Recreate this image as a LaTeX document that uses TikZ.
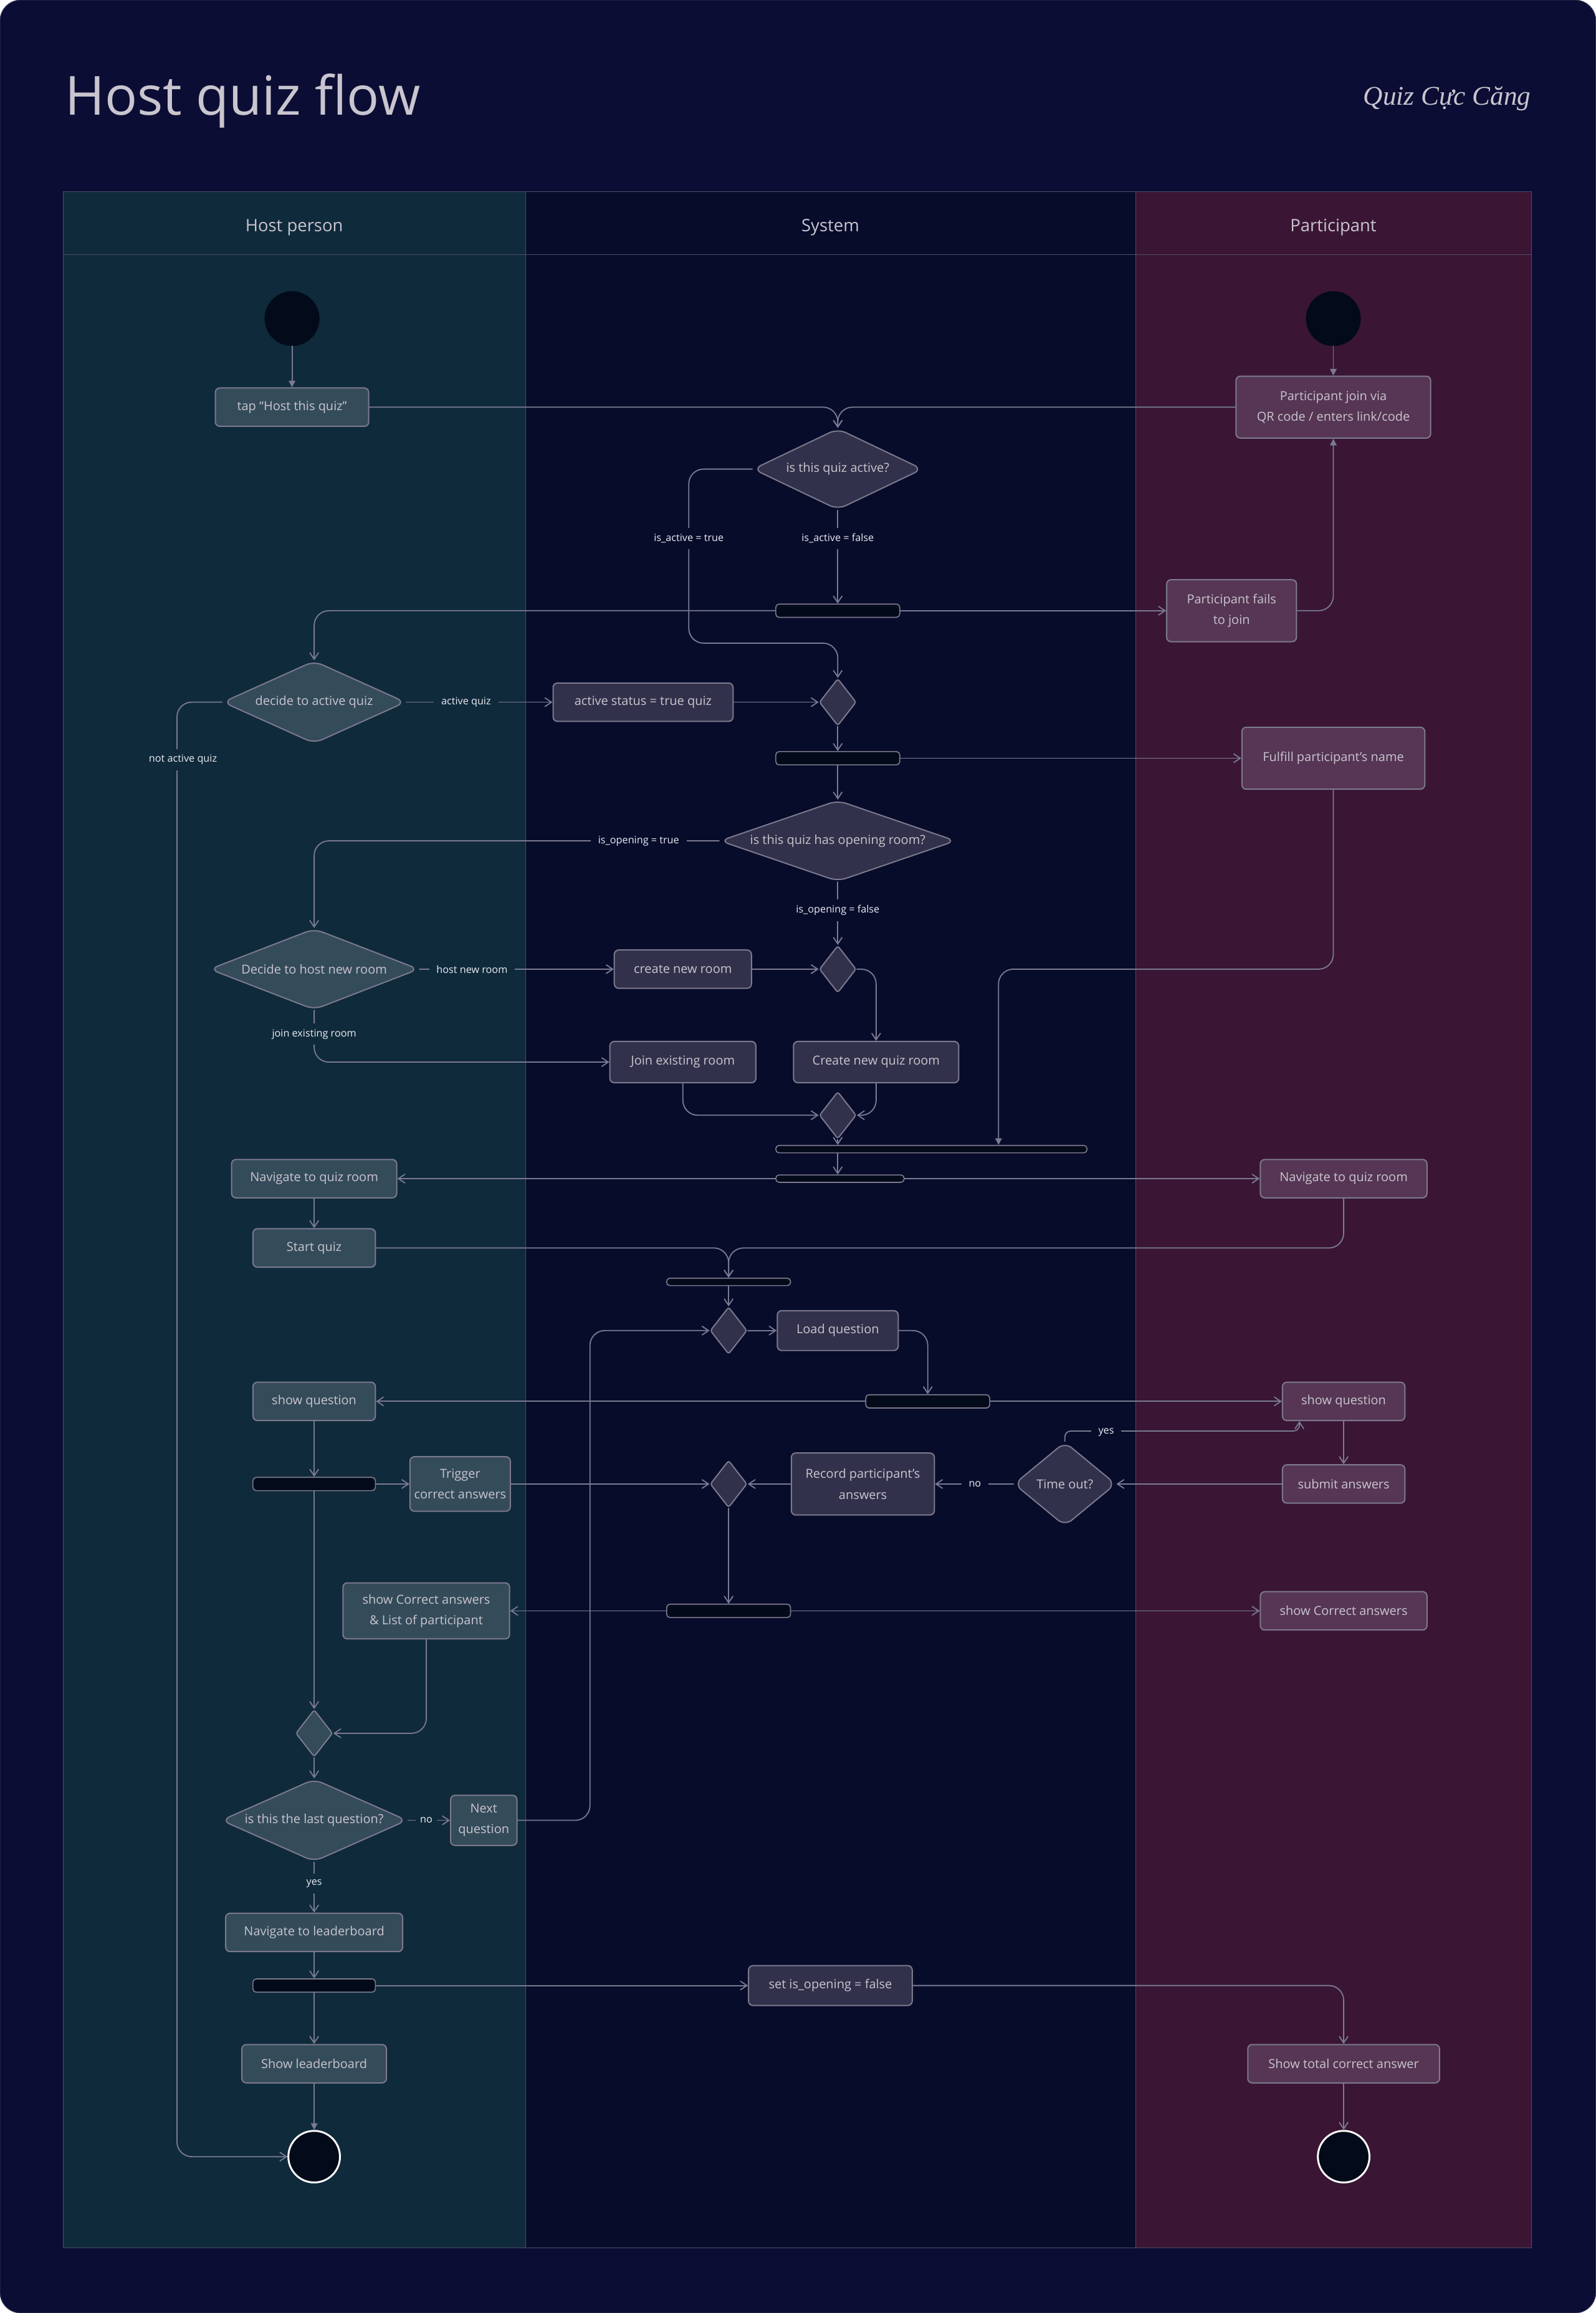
\documentclass[tikz,border=0pt]{standalone}
\usepackage{fontspec}
\setmainfont{Open Sans}
\newfontfamily\brandfont{Liberation Serif}
\usetikzlibrary{arrows.meta,shapes.geometric}
\definecolor{pagebg}{HTML}{0C0D34}
\definecolor{hostlane}{HTML}{0F2A3B}
\definecolor{syslane}{HTML}{080C2B}
\definecolor{partlane}{HTML}{3A1634}
\definecolor{laneline}{HTML}{4A4E68}
\definecolor{hostfill}{HTML}{344B5A}
\definecolor{sysfill}{HTML}{31314B}
\definecolor{partfill}{HTML}{563654}
\definecolor{boxline}{HTML}{7C798D}
\definecolor{wire}{HTML}{7A7A92}
\definecolor{ink}{HTML}{030A19}
\definecolor{boxtext}{HTML}{C9C5CF}
\definecolor{lbltext}{HTML}{ECECF2}
\newcommand\boxfont{\fontsize{24}{40}\selectfont}
\newcommand\lblfont{\fontsize{19.5}{21}\selectfont}
\begin{document}
\begin{tikzpicture}[x=1mm,y=-1mm,line cap=round,line join=round,
  >={Straight Barb[length=4.5mm,width=6mm]},
  flow/.style={->,draw=wire,line width=2.2pt,rounded corners=10mm},
  ptr/.style={-{Triangle[length=4.5mm,width=4.5mm]},draw=wire,line width=2.2pt,rounded corners=10mm},
  act/.style={rectangle,rounded corners=3mm,draw=boxline,line width=2.4pt,text=boxtext,font=\boxfont,align=center,inner xsep=2mm,inner ysep=1mm},
  hostbox/.style={act,fill=hostfill},
  sysbox/.style={act,fill=sysfill},
  partbox/.style={act,fill=partfill},
  dia/.style={diamond,rounded corners=6mm,draw=boxline,line width=2.4pt,text=boxtext,font=\boxfont,inner sep=0pt},
  hostdia/.style={dia,fill=hostfill},
  sysdia/.style={dia,fill=sysfill},
  merge/.style={diamond,rounded corners=1.5mm,draw=boxline,line width=2.4pt,minimum width=25mm,minimum height=32mm,inner sep=0pt},
  forkbar/.style={rectangle,rounded corners=2.2mm,fill=ink,draw=boxline,line width=2pt,minimum height=9mm,inner sep=0pt},
  startdot/.style={circle,fill=ink,draw=ink,minimum size=37mm,inner sep=0pt},
  enddot/.style={circle,fill=ink,draw=white,line width=3.6pt,minimum size=35mm,inner sep=0pt},
  lbl/.style={text=lbltext,font=\lblfont,inner xsep=5mm,inner ysep=4mm},
  head/.style={text=boxtext,font=\fontsize{33}{36}\selectfont,anchor=base},
  lane/.style={draw=laneline,line width=1.3pt}]
\useasboundingbox (0,0) rectangle (1082,1568);
\fill[white] (0,0) rectangle (1082,1568);
\filldraw[fill=pagebg,draw=laneline,line width=1pt,rounded corners=14mm] (0,0) rectangle (1082,1568);
\fill[hostlane] (43,130) rectangle (356.5,1524);
\fill[syslane] (356.5,130) rectangle (770,1524);
\fill[partlane] (770,130) rectangle (1038.5,1524);
\draw[lane] (43,130) rectangle (1038.5,1524);
\draw[lane] (356.5,130) -- (356.5,1524);
\draw[lane] (770,130) -- (770,1524);
\draw[lane] (43,172.5) -- (1038.5,172.5);

\node[anchor=base west,inner sep=0pt,text=boxtext,font=\fontsize{104}{110}\selectfont] (title) at (44,78) {Host quiz flow};
\node[anchor=base east,inner sep=0pt,text=boxtext,font=\brandfont\itshape\fontsize{52}{56}\selectfont] (brand) at (1038,71) {Quiz Cực Căng};
\node[head] (hhost) at (199.5,157) {Host person};
\node[head] (hsys) at (563,157) {System};
\node[head] (hpart) at (904,157) {Participant};

\node[startdot] (start1) at (198,216) {};
\node[startdot] (start2) at (904,216) {};
\node[hostbox,minimum width=104mm,minimum height=26mm] (tap) at (198,276) {tap “Host this quiz”};
\node[partbox,minimum width=132mm,minimum height=42mm] (join) at (904,276) {Participant join via\\QR code / enters link/code};
\node[sysdia,minimum width=115mm,minimum height=55mm,aspect=2.09] (qactive) at (568,318) {is this quiz active?};
\node[forkbar,minimum width=84mm] (bar1) at (568,414) {};
\node[partbox,minimum width=88mm,minimum height=42mm] (fails) at (835,414) {Participant fails\\to join};
\node[hostdia,minimum width=124mm,minimum height=56mm,aspect=2.21] (decide) at (213,476) {decide to active quiz};
\node[sysbox,minimum width=122mm,minimum height=26mm] (actstat) at (436,476) {active status = true quiz};
\node[merge,fill=sysfill] (merge1) at (568,476) {};
\node[forkbar,minimum width=84mm] (bar2) at (568,514) {};
\node[partbox,minimum width=124mm,minimum height=42mm] (fulfill) at (904,514) {Fulfill participant’s name};
\node[sysdia,minimum width=160mm,minimum height=55mm,aspect=2.91] (opening) at (568,570) {is this quiz has opening room?};
\node[hostdia,minimum width=142mm,minimum height=55mm,aspect=2.58] (hostroom) at (213,657) {Decide to host new room};
\node[sysbox,minimum width=93mm,minimum height=26mm] (createroom) at (463,657) {create new room};
\node[merge,fill=sysfill] (merge2) at (568,657) {};
\node[sysbox,minimum width=99mm,minimum height=28mm] (joinroom) at (463,720) {Join existing room};
\node[sysbox,minimum width=112mm,minimum height=28mm] (newquiz) at (594,720) {Create new quiz room};
\node[merge,fill=sysfill] (merge3) at (568,756) {};
\node[forkbar,minimum width=211mm,minimum height=5mm] (bar3) at (631.5,779) {};
\node[forkbar,minimum width=87mm,minimum height=5mm] (bar4) at (569.5,799) {};
\node[hostbox,minimum width=112mm,minimum height=26mm] (navh) at (213,799) {Navigate to quiz room};
\node[partbox,minimum width=113mm,minimum height=26mm] (navp) at (911,799) {Navigate to quiz room};
\node[hostbox,minimum width=83mm,minimum height=26mm] (startq) at (213,846) {Start quiz};
\node[forkbar,minimum width=84mm,minimum height=5mm] (bar5) at (494,869) {};
\node[merge,fill=sysfill] (merge4) at (494,902) {};
\node[sysbox,minimum width=82mm,minimum height=27mm] (loadq) at (568,902) {Load question};
\node[forkbar,minimum width=84mm] (bar6) at (629,950) {};
\node[hostbox,minimum width=83mm,minimum height=26mm] (showqh) at (213,950) {show question};
\node[partbox,minimum width=83mm,minimum height=26mm] (showqp) at (911,950) {show question};
\node[forkbar,minimum width=83mm] (hbar1) at (213,1006) {};
\node[hostbox,minimum width=68mm,minimum height=37mm] (trigger) at (312,1006) {Trigger\\correct answers};
\node[merge,fill=sysfill] (merge5) at (494,1006) {};
\node[sysbox,minimum width=97mm,minimum height=42mm] (record) at (585,1006) {Record participant’s\\answers};
\node[sysdia,minimum width=69mm,minimum height=57mm,aspect=1.21] (timeout) at (722,1006) {Time out?};
\node[partbox,minimum width=83mm,minimum height=26mm] (submit) at (911,1006) {submit answers};
\node[forkbar,minimum width=84mm] (bar7) at (494,1092) {};
\node[hostbox,minimum width=113mm,minimum height=38mm] (showcah) at (289,1092) {show Correct answers\\\& List of participant};
\node[partbox,minimum width=113mm,minimum height=26mm] (showcap) at (911,1092) {show Correct answers};
\node[merge,fill=hostfill] (mergeh) at (213,1175) {};
\node[hostdia,minimum width=126mm,minimum height=56mm,aspect=2.25] (lastq) at (213,1234) {is this the last question?};
\node[hostbox,minimum width=45mm,minimum height=34mm] (nextq) at (328,1234) {Next\\question};
\node[hostbox,minimum width=120mm,minimum height=26mm] (navlb) at (213,1310) {Navigate to leaderboard};
\node[forkbar,minimum width=83mm] (hbar2) at (213,1346) {};
\node[sysbox,minimum width=111mm,minimum height=27mm] (setop) at (563,1346) {set is\_opening = false};
\node[hostbox,minimum width=98mm,minimum height=26mm] (showlb) at (213,1399) {Show leaderboard};
\node[partbox,minimum width=130mm,minimum height=26mm] (showtot) at (911,1399) {Show total correct answer};
\node[enddot] (end1) at (213,1462) {};
\node[enddot] (end2) at (911,1462) {};

\draw[ptr] (start1) -- (tap);
\draw[ptr] (start2) -- (join);
\draw[flow] (tap.east) -| (qactive.north);
\draw[flow] (join.west) -| (qactive.north);
\draw[flow] (qactive.west) -| (467,436) -| (merge1.north);
\draw[flow] (qactive.south) -- (bar1.north);
\draw[flow] (bar1.west) -| (decide.north);
\draw[flow] (bar1.east) -- (fails.west);
\draw[ptr] (fails.east) -| (join.south);
\draw[flow] (decide.east) -- (actstat.west);
\draw[flow] (decide.west) -| (120,1462) -- (end1.west);
\draw[flow] (actstat.east) -- (merge1.west);
\draw[flow] (merge1.south) -- (bar2.north);
\draw[flow] (bar2.east) -- (fulfill.west);
\draw[flow] (bar2.south) -- (opening.north);
\draw[flow] (opening.west) -| (hostroom.north);
\draw[flow] (opening.south) -- (merge2.north);
\draw[flow] (hostroom.east) -- (createroom.west);
\draw[flow] (hostroom.south) |- (joinroom.west);
\draw[flow] (createroom.east) -- (merge2.west);
\draw[flow] (merge2.east) -| (newquiz.north);
\draw[flow] (joinroom.south) |- (merge3.west);
\draw[flow] (newquiz.south) |- (merge3.east);
\draw[flow] (merge3.south) -- (merge3.south |- bar3.north);
\draw[ptr] (fulfill.south) |- (677,657) -- (677,0 |- bar3.north);
\draw[flow] (merge3.south |- bar3.south) -- (merge3.south |- bar4.north);
\draw[flow] (bar4.west) -- (navh.east);
\draw[flow] (bar4.east) -- (navp.west);
\draw[flow] (navh.south) -- (startq.north);
\draw[flow] (startq.east) -| (bar5.north);
\draw[flow] (navp.south) |- (bar5.north |- startq.east) -- (bar5.north);
\draw[flow] (bar5.south) -- (merge4.north);
\draw[flow] (merge4.east) -- (loadq.west);
\draw[flow] (loadq.east) -| (bar6.north);
\draw[flow] (bar6.west) -- (showqh.east);
\draw[flow] (bar6.east) -- (showqp.west);
\draw[flow] (showqh.south) -- (hbar1.north);
\draw[flow] (hbar1.east) -- (trigger.west);
\draw[flow] (trigger.east) -- (merge5.west);
\draw[flow] (record.west) -- (merge5.east);
\draw[flow] (timeout.west) -- (record.east);
\draw[flow] (submit.west) -- (timeout.east);
\draw[flow] (showqp.south) -- (submit.north);
\draw[flow,rounded corners=4mm] (timeout.north) -- ++(0,-7) -| ([xshift=-30mm]showqp.south);
\draw[flow] (merge5.south) -- (bar7.north);
\draw[flow] (bar7.west) -- (showcah.east);
\draw[flow] (bar7.east) -- (showcap.west);
\draw[flow] (hbar1.south) -- (mergeh.north);
\draw[flow] (showcah.south) |- (mergeh.east);
\draw[flow] (mergeh.south) -- (lastq.north);
\draw[flow] (lastq.east) -- (nextq.west);
\draw[flow] (nextq.east) -| (400,902) -- (merge4.west);
\draw[flow] (lastq.south) -- (navlb.north);
\draw[flow] (navlb.south) -- (hbar2.north);
\draw[flow] (hbar2.east) -- (setop.west);
\draw[flow] (setop.east) -| (showtot.north);
\draw[flow] (hbar2.south) -- (showlb.north);
\draw[ptr] (showlb.south) -- (end1.north);
\draw[flow] (showtot.south) -- (end2.north);

\node[lbl,fill=syslane] (lacttrue) at (467,365) {is\_active = true};
\node[lbl,fill=syslane] (lactfalse) at (568,365) {is\_active = false};
\node[lbl,fill=hostlane] (lactive) at (316,476) {active quiz};
\node[lbl,fill=hostlane] (lnotactive) at (124,515) {not active quiz};
\node[lbl,fill=syslane] (lopentrue) at (433,570) {is\_opening = true};
\node[lbl,fill=syslane] (lopenfalse) at (568,617) {is\_opening = false};
\node[lbl,fill=hostlane] (lhostnew) at (320,657) {host new room};
\node[lbl,fill=hostlane] (ljoinex) at (213,701) {join existing room};
\node[lbl,fill=syslane] (lno1) at (661,1006) {no};
\node[lbl,fill=syslane] (lyes1) at (750,971) {yes};
\node[lbl,fill=hostlane,inner xsep=3mm] (lno2) at (289,1234) {no};
\node[lbl,fill=hostlane] (lyes2) at (213,1277) {yes};
\end{tikzpicture}
\end{document}
